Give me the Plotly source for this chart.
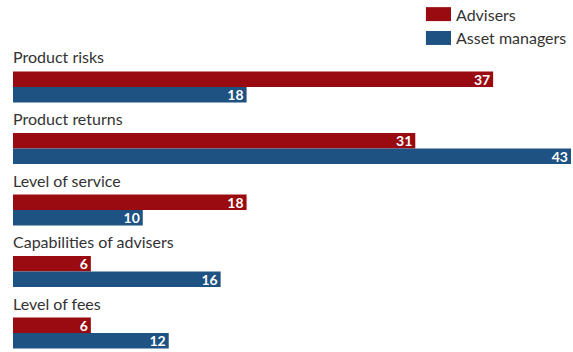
import plotly.graph_objects as go

# Survey factors, top to bottom
categories = ["Product risks", "Product returns", "Level of service",
              "Capabilities of advisers", "Level of fees"]
series_names = ["Advisers", "Asset managers"]
advisers = [37, 31, 18, 6, 6]
asset_managers = [18, 43, 10, 16, 12]

RED = "#990b11"
BLUE = "#1d5282"
FONT = "Lato"

fig = go.Figure()
for name, vals, col in [(series_names[0], advisers, RED),
                        (series_names[1], asset_managers, BLUE)]:
    fig.add_trace(go.Bar(
        y=categories, x=vals, orientation="h", name=name,
        marker=dict(color=col, line=dict(width=0)),
        text=[str(v) for v in vals], textposition="inside", textangle=0,
        insidetextanchor="end", constraintext="none",
        textfont=dict(family=FONT, size=14, color="white", weight="bold"),
        hoverinfo="skip", showlegend=False,
    ))

# Category headings sit above each pair of bars
for c in categories:
    fig.add_annotation(x=0, y=c, xref="x", yref="y", text=c,
                       xanchor="left", yanchor="middle", yshift=30, xshift=-2,
                       showarrow=False,
                       font=dict(family=FONT, size=16, color="#333333"))

# Legend block, top right
legend_rows = [(series_names[0], RED, 1.106, 1.061),
               (series_names[1], BLUE, 1.029, 0.984)]
for name, col, y1, y0 in legend_rows:
    fig.add_shape(type="rect", xref="paper", yref="paper",
                  x0=0.740, x1=0.785, y0=y0, y1=y1,
                  fillcolor=col, line=dict(width=0))
    fig.add_annotation(x=0.791, y=(y0 + y1) / 2, xref="paper", yref="paper",
                       text=name, xanchor="left", yanchor="middle",
                       showarrow=False,
                       font=dict(family=FONT, size=16, color="#333333"))

fig.update_layout(
    width=573, height=352,
    margin=dict(l=13, r=2, t=40, b=2),
    paper_bgcolor="white", plot_bgcolor="white",
    barmode="group", bargap=0.495, bargroupgap=0,
    xaxis=dict(range=[0, 43], visible=False, fixedrange=True),
    yaxis=dict(range=[4.276, -0.764], visible=False, fixedrange=True,
               categoryorder="array", categoryarray=categories),
)

fig.write_html("out.html")
